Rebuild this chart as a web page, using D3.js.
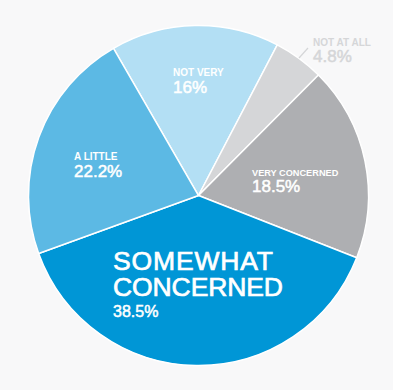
<!DOCTYPE html>
<html>
<head>
<meta charset="utf-8">
<script src="https://cdn.jsdelivr.net/npm/d3@7"></script>
<style>
  html, body { margin: 0; padding: 0; background: #f8f8f9; }
  svg { display: block; }
  text { font-family: "Liberation Sans", Arial, sans-serif; fill: #fff; }
</style>
</head>
<body>
<div id="chart"></div>
<script>
// data
var categories = ["NOT VERY", "NOT AT ALL", "VERY CONCERNED", "SOMEWHAT CONCERNED", "A LITTLE"];
var values = [16, 4.8, 18.5, 38.5, 22.2];
var valueLabels = ["16%", "4.8%", "18.5%", "38.5%", "22.2%"];

var svgWidth = 393;
var svgHeight = 390;
var cx = 198.5, cy = 195.5, radius = 170;

var colors = ["#b3dff4", "#d5d6d8", "#aeafb2", "#0096d6", "#5cb9e4"];

var svg = d3.select("#chart")
  .append("svg")
  .attr("width", svgWidth)
  .attr("height", svgHeight);

var chartGroup = svg.append("g")
  .attr("transform", `translate(${cx}, ${cy})`);

var pie = d3.pie()
  .sort(null)
  .value(d => d)
  .startAngle(-30 * Math.PI / 180)
  .endAngle(330 * Math.PI / 180);

var arc = d3.arc().innerRadius(0).outerRadius(radius);

var arcs = pie(values);

chartGroup.selectAll("path")
  .data(arcs)
  .enter()
  .append("path")
  .attr("d", arc)
  .attr("fill", (d, i) => colors[i])
  .attr("stroke", "#fff")
  .attr("stroke-width", 1.5)
  .attr("stroke-linejoin", "round");

// label spots (page coords): [x, name baseline, value baseline, name size, value size]
var labelPos = [
  [173, 76, 93, 10, 17],
  [313, 46, 62, 10, 17],
  [252, 176, 192, 9.2, 17],
  [113, 270, 317, 26.5, 16],
  [74, 160, 177, 10, 17]
];

var labels = svg.append("g");

categories.forEach(function(name, i) {
  var p = labelPos[i];
  var fill = i === 1 ? "#d5d6d8" : "#fff";
  if (i === 3) {
    // big two-line label, one text with two lines
    var big = labels.append("text")
      .attr("x", p[0]).attr("y", p[1])
      .attr("font-size", p[3])
      .style("fill", fill)
      .style("stroke", fill)
      .style("stroke-width", 0.7);
    big.append("tspan")
      .attr("x", p[0]).attr("y", p[1])
      .attr("textLength", 160)
      .text("SOMEWHAT");
    big.append("tspan")
      .attr("x", p[0]).attr("y", p[1] + 26)
      .attr("textLength", 170)
      .text("CONCERNED");
  } else {
    labels.append("text")
      .attr("x", p[0]).attr("y", p[1])
      .attr("font-size", p[3])
      .attr("font-weight", "bold")
      .style("fill", fill)
      .text(name);
  }
  labels.append("text")
    .attr("x", p[0]).attr("y", p[2])
    .attr("font-size", p[4])
    .style("fill", fill)
    .style("stroke", fill)
    .style("stroke-width", 0.5)
    .text(valueLabels[i]);
});

// leader line for the small slice
svg.append("line")
  .attr("x1", 299).attr("y1", 58)
  .attr("x2", 308).attr("y2", 48)
  .attr("stroke", "#d5d6d8")
  .attr("stroke-width", 1.2);
</script>
</body>
</html>
